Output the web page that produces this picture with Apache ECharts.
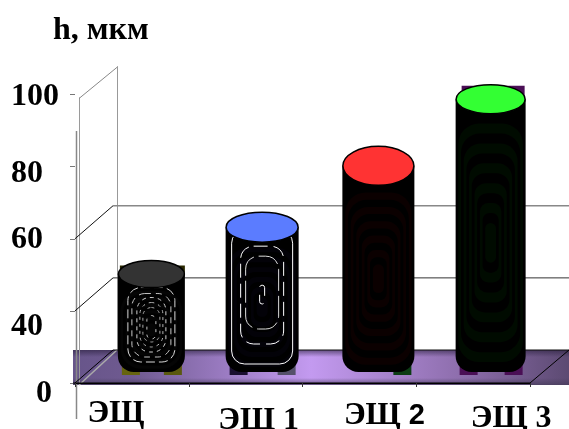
<!DOCTYPE html>
<html>
<head>
<meta charset="utf-8">
<style>html,body{margin:0;padding:0;background:#fff}#chart{width:569px;height:429px}</style>
<script src="https://cdn.jsdelivr.net/npm/echarts@6/dist/echarts.min.js"></script>
</head>
<body>
<div id="chart"></div>
<script>
// Coating thickness per electrolyte, with the axis broken below 40
const categories = ['ЭЩ', 'ЭЩ 1', 'ЭЩ 2', 'ЭЩ 3'];
const thickness = [45.5, 58.5, 75.5, 94];
const yTickValues = [20, 40, 60, 80, 100];
const yTickLabels = ['0', '40', '60', '80', '100'];
const yAxisTitle = 'h, мкм';

const capColors = ['#333333', '#5b7cff', '#ff3333', '#33ff33'];
const bodyColors = ['#050505', '#030208', '#0b0000', '#000b00'];
const halfWidths = [33.5, 36.5, 36, 35];
const capRadii = [13.5, 15, 19.5, 14.5];
const nudges = [1.5, -1.5, 1, -0.5];
const cornerColors = [
  ['#66640f', '#5a580e'],
  ['#1a0f30', '#55506a'],
  [null, '#0c3c14'],
  ['#4a0f55', '#4a0f55']
];

// Offset of the back wall from the front plane of the box
const DEPTH_X = 39, DEPTH_Y = 33;
const SERIF = '"Liberation Serif", serif';
const FONT_SIZE = 32;

function lineEl(x1, y1, x2, y2, stroke, lineWidth) {
  return { type: 'line', shape: { x1, y1, x2, y2 }, style: { stroke, lineWidth: lineWidth || 1 }, silent: true };
}

// Walls, floor and back grid lines of the box
function renderBox(params, api) {
  const left = api.coord([0, 20])[0] - api.size([1, 0])[0] / 2;
  const right = left + api.size([1, 0])[0] * 4;
  const yAt = v => api.coord([0, v])[1];
  const floorY = yAt(20), topY = yAt(100);
  const backFloorY = floorY - DEPTH_Y;
  const children = [
    {
      type: 'rect', shape: { x: left - 2, y: backFloorY, width: 569 - left + 2, height: floorY - backFloorY + 2 },
      style: {
        fill: {
          type: 'linear', x: 0, y: 0, x2: 1, y2: 0,
          colorStops: [
            { offset: 0, color: '#67558a' },
            { offset: 0.12, color: '#6f5a90' },
            { offset: 0.48, color: '#c39af0' },
            { offset: 0.8, color: '#8a6ba8' },
            { offset: 1, color: '#5c4a72' }
          ]
        }
      }, silent: true
    },
    {
      type: 'rect', shape: { x: left - 2, y: backFloorY, width: 569 - left + 2, height: 7 },
      style: {
        fill: {
          type: 'linear', x: 0, y: 0, x2: 0, y2: 1,
          colorStops: [{ offset: 0, color: 'rgba(40,30,60,0.6)' }, { offset: 1, color: 'rgba(40,30,60,0)' }]
        }
      }, silent: true
    },
    {
      type: 'rect', shape: { x: left - 2, y: floorY - 5, width: 569 - left + 2, height: 7 },
      style: {
        fill: {
          type: 'linear', x: 0, y: 0, x2: 0, y2: 1,
          colorStops: [{ offset: 0, color: 'rgba(70,60,90,0)' }, { offset: 1, color: 'rgba(70,60,90,0.75)' }]
        }
      }, silent: true
    },
    // Outer vertical line next to the tick marks
    lineEl(left + 1.5, 131, left + 1.5, 419, '#888888', 1.5),
    // Side wall outline
    lineEl(left + 4.5, topY + 3, left + 4.5, floorY + 2, '#9a9a9a', 1),
    lineEl(left + 4, topY + 4, left + DEPTH_X + 4, topY - 28, '#888888', 1),
    lineEl(left + DEPTH_X + 3.5, topY - 28, left + DEPTH_X + 3.5, backFloorY, '#999999', 1),
    lineEl(left + 4, floorY + 2, left + DEPTH_X + 3, backFloorY, '#aaaaaa', 1.5),
    // Side wall and back wall grid lines
    lineEl(left, yAt(60), left + DEPTH_X - 1, yAt(60) - DEPTH_Y, '#111111', 1),
    lineEl(left, yAt(40), left + DEPTH_X - 1, yAt(40) - DEPTH_Y, '#111111', 1),
    lineEl(left, floorY, left + DEPTH_X - 1, backFloorY, '#000000', 1),
    lineEl(left + DEPTH_X - 1, yAt(60) - DEPTH_Y, 569, yAt(60) - DEPTH_Y, '#888888', 1.5),
    lineEl(left + DEPTH_X - 1, yAt(40) - DEPTH_Y, 569, yAt(40) - DEPTH_Y, '#333333', 1),
    lineEl(left + DEPTH_X - 1, backFloorY, 569, backFloorY, '#111111', 1),
    lineEl(right, floorY, right + DEPTH_X, backFloorY, '#000000', 1),
    lineEl(left - 2, floorY, right, floorY, '#000000', 1)
  ];
  return { type: 'group', children };
}

// Light bands on the two short cylinders: [inset x, top inset, bottom inset, stroke, dash]
const lightBands = [
  [
    [10, 14, 10, '#d8d8d8', [9, 4]], [14, 20, 15, '#c4c4c4', [6, 5]], [19, 24, 20, '#d0d0d0', [4, 4]],
    [22, 29, 25, '#b4b4b4', [3, 4]], [25, 34, 30, '#a8a8a8', [3, 4]], [29, 42, 33, '#c4c4c4', [3, 5]]
  ],
  [
    [6, 2, 8, '#ffffff', null], [15, 18, 28, '#ffffff', [14, 6]], [20, 28, 43, '#dddddd', [22, 5]], [34, 57, 68, '#ffffff', [12, 8]]
  ],
  [],
  []
];

function renderBar(params, api) {
  const i = api.value(0);
  const top = api.coord([i, api.value(1)]);
  const base = api.coord([i, 20]);
  const cx = top[0] + DEPTH_X / 2 - 1.5 + nudges[i];
  const cy = top[1] - DEPTH_Y / 2 - 0.5;
  const bottom = base[1] - 11;
  const hw = halfWidths[i], ry = capRadii[i];
  const x0 = cx - hw, bodyW = hw * 2, bodyH = bottom - cy;
  const tint = bodyColors[i];
  const children = [];

  // Square corners of the underlying column showing past the round body
  const corners = cornerColors[i];
  if (corners[0]) {
    children.push({ type: 'rect', shape: { x: x0 + 4, y: bottom - 8, width: 18, height: 11 }, style: { fill: corners[0] }, silent: true });
  }
  if (corners[1]) {
    children.push({ type: 'rect', shape: { x: x0 + bodyW - 21, y: bottom - 8, width: 18, height: 11 }, style: { fill: corners[1] }, silent: true });
  }
  if (i === 0) {
    children.push({ type: 'rect', shape: { x: x0 + 2, y: cy - ry + 5, width: bodyW - 2, height: 10 }, style: { fill: '#2a2800' }, silent: true });
  }
  if (i === 3) {
    children.push({ type: 'rect', shape: { x: x0 + 6, y: cy - ry + 1, width: bodyW - 7, height: 12 }, style: { fill: '#4a0f55' }, silent: true });
  }

  children.push({ type: 'rect', shape: { x: x0, y: cy, width: bodyW, height: bodyH, r: [0, 0, 16, 16] }, style: { fill: '#000000' }, silent: true });

  // Dark banding of the body
  for (let k = 1; k < 12; k++) {
    const ix = k * hw / 13, iy = k * (bodyH - ry) / 26;
    children.push({
      type: 'rect',
      shape: { x: x0 + ix, y: cy + ry + iy, width: bodyW - ix * 2, height: Math.max(bodyH - ry - iy * 2, 4), r: Math.max(22 - k * 1.5, 4) },
      style: { fill: k % 2 ? tint : '#000000' }, silent: true
    });
  }

  lightBands[i].forEach(b => {
    children.push({
      type: 'rect',
      shape: { x: x0 + b[0], y: cy + b[1] + ry - 14, width: bodyW - b[0] * 2, height: bodyH - ry - b[1] - b[2] + 14, r: 13 },
      style: { fill: null, stroke: b[3], lineWidth: 1, lineDash: b[4] || undefined }, silent: true
    });
  });

  children.push({
    type: 'ellipse', shape: { cx, cy, rx: hw - 0.5, ry },
    style: { fill: capColors[i], stroke: '#000000', lineWidth: 1.5 }, silent: true
  });
  return { type: 'group', children };
}

const yLabelKey = { '100': 'y100', '80': 'y80', '60': 'y60', '40': 'y40', '0': 'y0' };
const yLabelBase = { fontFamily: SERIF, fontWeight: 'bold', fontSize: FONT_SIZE, color: '#000' };
const xLabelBase = { fontFamily: SERIF, fontWeight: 'bold', fontSize: FONT_SIZE, color: '#000' };

const chart = echarts.init(document.getElementById('chart'), null, { renderer: 'canvas' });
chart.setOption({
  animation: false,
  backgroundColor: '#ffffff',
  title: {
    text: yAxisTitle, left: 48, top: 10,
    textStyle: { fontFamily: SERIF, fontWeight: 'bold', fontSize: FONT_SIZE, color: '#000' }
  },
  grid: { left: 75, right: 39, top: 94.5, bottom: 46, outerBoundsMode: 'none' },
  xAxis: {
    type: 'category', data: categories, z: 3,
    axisLine: { show: true, lineStyle: { color: '#000', width: 1 } },
    axisTick: { show: true, alignWithLabel: false, length: 4, lineStyle: { color: '#333' } },
    axisLabel: {
      interval: 0, margin: 8,
      formatter: (name, idx) => {
        if (idx === 2) return '{c|ЭЩ }{n|2}';
        return '{' + 'abd'[idx === 3 ? 2 : idx] + '|' + name + '}';
      },
      rich: {
        a: { ...xLabelBase, padding: [7, 32, 0, 0] },
        b: { ...xLabelBase, padding: [14, 0, 0, 26] },
        c: { ...xLabelBase, padding: [9, 0, 0, 50] },
        n: { ...xLabelBase, fontFamily: '"Liberation Sans", sans-serif', fontSize: 29, padding: [9, 0, 0, 0] },
        d: { ...xLabelBase, padding: [12, 0, 0, 76] }
      }
    }
  },
  yAxis: {
    type: 'value', min: 20, max: 100, interval: 20,
    splitLine: { show: false },
    axisLine: { show: false },
    axisTick: { show: true, length: 5, lineStyle: { color: '#777' } },
    axisLabel: {
      align: 'left', margin: 64,
      formatter: v => {
        const text = yTickLabels[yTickValues.indexOf(v)];
        return '{' + yLabelKey[text] + '|' + text + '}';
      },
      rich: {
        y100: { ...yLabelBase, padding: [4, 0, 0, 0] },
        y80: { ...yLabelBase, padding: [14, 0, 0, 0] },
        y60: { ...yLabelBase, padding: [2, 0, 0, 0] },
        y40: { ...yLabelBase, padding: [32, 0, 0, 0] },
        y0: { ...yLabelBase, padding: [22, 0, 0, 25] }
      }
    }
  },
  series: [
    { name: 'box', type: 'custom', coordinateSystem: 'cartesian2d', clip: false, z: 1, silent: true, renderItem: renderBox, data: [[0, 20]] },
    {
      name: 'h', type: 'custom', coordinateSystem: 'cartesian2d', clip: false, z: 4, renderItem: renderBar,
      encode: { x: 0, y: 1 },
      data: thickness.map((v, i) => [i, v])
    }
  ]
});
</script>
</body>
</html>
